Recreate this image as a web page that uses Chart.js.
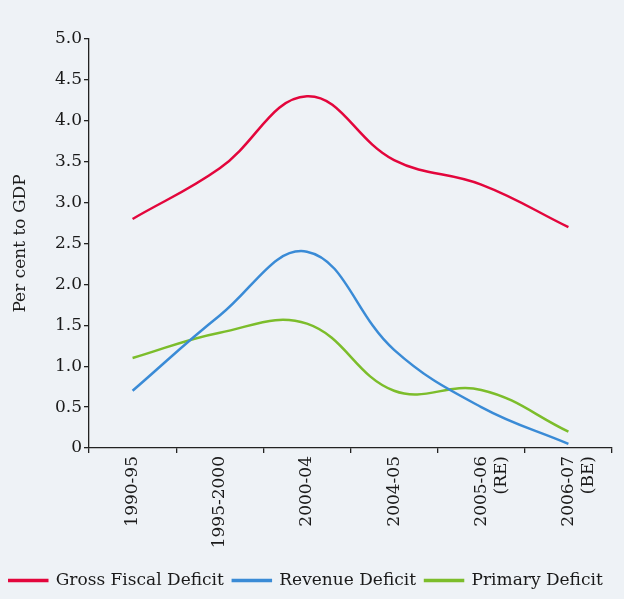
<!DOCTYPE html>
<html>
<head>
<meta charset="utf-8">
<script src="https://cdn.jsdelivr.net/npm/chart.js@4/dist/chart.umd.min.js"></script>
<style>
  html, body { margin: 0; padding: 0; background: #eef2f6; }
  #wrap { position: relative; width: 624px; height: 599px; }
</style>
</head>
<body>
<div id="wrap"><canvas id="deficitChart"></canvas></div>
<script>
const periods = ['1990-95', '1995-2000', '2000-04', '2004-05', ['2005-06', '(RE)'], ['2006-07', '(BE)']];
const grossFiscal = [2.8, 3.42, 4.3, 3.52, 3.22, 2.7];
const revenue = [0.7, 1.62, 2.4, 1.2, 0.5, 0.05];
const primary = [1.1, 1.41, 1.52, 0.7, 0.71, 0.2];
const yTicks = [0, 0.5, 1.0, 1.5, 2.0, 2.5, 3.0, 3.5, 4.0, 4.5, 5.0];

const serif = 'DejaVu Serif';
Chart.defaults.font.family = serif;
Chart.defaults.color = '#1a1a1a';

function series(label, data, color) {
    return {
        label: label,
        data: data,
        borderColor: color,
        backgroundColor: color,
        borderWidth: 2.5,
        pointRadius: 0,
        tension: 0.4,
        fill: false
    };
}

new Chart(document.getElementById('deficitChart'), {
    type: 'line',
    data: {
        labels: periods,
        datasets: [
            series('Gross Fiscal Deficit', grossFiscal, '#e3063c'),
            series('Revenue Deficit', revenue, '#3a8bd6'),
            series('Primary Deficit', primary, '#7cbd2b')
        ]
    },
    options: {
        responsive: true,
        maintainAspectRatio: false,
        animation: false,
        layout: { padding: { top: 39, right: 12, left: 0, bottom: 0 } },
        plugins: {
            tooltip: { enabled: false },
            legend: {
                position: 'bottom',
                labels: {
                    boxWidth: 38,
                    boxHeight: 1,
                    padding: 9,
                    color: '#1a1a1a',
                    font: { family: serif, size: 17 }
                }
            }
        },
        scales: {
            x: {
                offset: true,
                afterFit: axis => { axis.height = 115; },
                border: { display: true, color: '#222', width: 1.3 },
                grid: { display: true, drawOnChartArea: false, offset: true, tickLength: 5, color: '#222', lineWidth: 1.3 },
                ticks: {
                    minRotation: 90,
                    maxRotation: 90,
                    autoSkip: false,
                    padding: 3,
                    color: '#1a1a1a',
                    font: { family: serif, size: 17 }
                }
            },
            y: {
                min: 0,
                max: 5,
                afterFit: axis => { axis.width = 89; },
                afterBuildTicks: axis => { axis.ticks = yTicks.map(v => ({ value: v })); },
                border: { display: true, color: '#222', width: 1.3 },
                grid: { display: true, drawOnChartArea: false, tickLength: 5, color: '#222', lineWidth: 1.3 },
                ticks: {
                    padding: 2,
                    color: '#1a1a1a',
                    font: { family: serif, size: 17 },
                    callback: v => v === 0 ? '0' : v.toFixed(1)
                },
                title: {
                    display: true,
                    text: 'Per cent to GDP',
                    color: '#1a1a1a',
                    font: { family: serif, size: 17 },
                    padding: { top: 10, bottom: 0 }
                }
            }
        }
    }
});
</script>
</body>
</html>
